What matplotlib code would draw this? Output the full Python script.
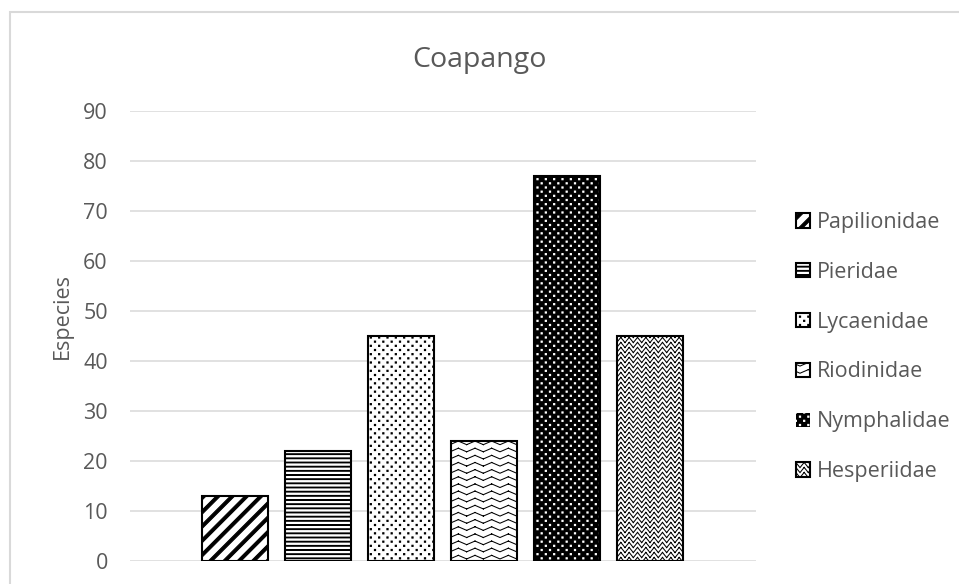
import warnings
import numpy as np
import matplotlib
matplotlib.use("Agg")
import matplotlib.pyplot as plt
from matplotlib import hatch as mhatch
from matplotlib.path import Path
from matplotlib.patches import Rectangle

warnings.filterwarnings("ignore", category=matplotlib.MatplotlibDeprecationWarning)

# ---- data -------------------------------------------------------------
families = ["Papilionidae", "Pieridae", "Lycaenidae", "Riodinidae",
            "Nymphalidae", "Hesperiidae"]
species = [13, 22, 45, 24, 77, 45]
yticks = [0, 10, 20, 30, 40, 50, 60, 70, 80, 90]
title = "Coapango"
ylabel = "Especies"

# hatch code per family (custom fill patterns defined below)
patterns = ["d", "h", "p", "w", "p", "v"]
faces = ["white", "white", "white", "white", "black", "white"]
hatch_ink = ["black", "black", "black", "black", "white", "black"]

# ---- custom hatch patterns (unit cell = one inch tile) -------------------
plt.rcParams["hatch.linewidth"] = 0.75


def _diagonal(n=7, t=0.021):
    polys = []
    for k in range(-n - 1, n + 2):
        c = k / n
        polys.append([(-0.2, -0.2 + c - t), (1.2, 1.2 + c - t),
                      (1.2, 1.2 + c + t), (-0.2, -0.2 + c + t)])
    return polys


def _horizontal(n=24, t=0.004):
    polys = []
    for k in range(-1, n + 2):
        y = k / n
        polys.append([(-0.1, y - t), (1.1, y - t), (1.1, y + t), (-0.1, y + t)])
    return polys


def _dots(cols=12, rows=24, s=0.006):
    polys = []
    for r in range(-1, rows + 2):
        y = r / rows
        off = 0.5 / cols if r % 2 else 0.0
        for c in range(-1, cols + 2):
            x = c / cols + off
            polys.append([(x - s, y - s), (x + s, y - s),
                          (x + s, y + s), (x - s, y + s)])
    return polys


def _zigzag(rows, periods, amp):
    segs = []
    xs = np.arange(2 * periods + 1) / (2 * periods)
    for r in range(-1, rows + 2):
        y0 = r / rows
        ys = [y0 - amp if j % 2 == 0 else y0 + amp for j in range(len(xs))]
        for j in range(len(xs) - 1):
            segs.append([(xs[j], ys[j]), (xs[j + 1], ys[j + 1])])
    return segs


_shapes = {
    "d": lambda: _diagonal(),
    "h": lambda: _horizontal(),
    "p": lambda: _dots(),
    "w": lambda: _zigzag(14, 6, 0.018),
    "v": lambda: _zigzag(20, 12, 0.026),
}


def _make_hatch(char):
    class _Pattern(mhatch.HatchPatternBase):
        def __init__(self, hatch, density):
            self.polys = _shapes[char]() if (hatch and char in hatch) else []
            self.num_vertices = sum(len(p) + 1 for p in self.polys)

        def set_vertices_and_codes(self, vertices, codes):
            i = 0
            for p in self.polys:
                n = len(p)
                vertices[i:i + n] = p
                vertices[i + n] = p[0]
                codes[i] = Path.MOVETO
                codes[i + 1:i + n] = Path.LINETO
                codes[i + n] = Path.CLOSEPOLY
                i += n + 1
    return _Pattern


for ch in _shapes:
    mhatch._hatch_types.append(_make_hatch(ch))

# ---- figure -------------------------------------------------------------
plt.rcParams["font.family"] = ["Open Sans", "DejaVu Sans"]
text_col = "#595959"
grid_col = "#d9d9d9"

W, H = 959, 584
fig = plt.figure(figsize=(W / 100, H / 100), dpi=100)
fig.patch.set_facecolor("white")

# chart border
fig.patches.append(Rectangle((10 / W, -0.1), 1.2, (H - 12) / H + 0.1,
                             transform=fig.transFigure, fill=False,
                             edgecolor=grid_col, linewidth=1.5))

ax = fig.add_axes([130 / W, (H - 561) / H, (756 - 130) / W, 450 / H])
ax.set_ylim(0, 90)
ax.set_xlim(-1.27, 6.28)
ax.set_yticks(yticks)
ax.set_xticks([])
ax.yaxis.grid(True, color=grid_col, linewidth=1.1)
ax.set_axisbelow(True)
for sp in ax.spines.values():
    sp.set_visible(False)
ax.tick_params(axis="y", length=0, pad=16, labelsize=15.5, labelcolor=text_col)

handles = []
for i, (fam, val) in enumerate(zip(families, species)):
    if faces[i] == "black":
        b = ax.bar(i, val, width=0.8, color=faces[i], edgecolor=hatch_ink[i],
                   linewidth=0, hatch=patterns[i], label=fam, zorder=2)
        ax.bar(i, val, width=0.8, fill=False, edgecolor="black",
               linewidth=1.5, zorder=3)
    else:
        b = ax.bar(i, val, width=0.8, color=faces[i], edgecolor=hatch_ink[i],
                   linewidth=1.5, hatch=patterns[i], label=fam, zorder=2)
    handles.append(b)

fig.text(479 / W, 1 - 60 / H, title, ha="center", va="center",
         fontsize=20.5, color=text_col)
fig.text(62 / W, 1 - 316 / H, ylabel, ha="center", va="center",
         rotation=90, fontsize=15.5, color=text_col)

fig.legend(handles=handles, labels=families, loc="center left",
           bbox_to_anchor=(796 / W, 1 - 347 / H), frameon=False,
           fontsize=15.5, labelcolor=text_col, handlelength=0.65,
           handleheight=0.65, handletextpad=0.3, labelspacing=1.34,
           borderpad=0, borderaxespad=0)

fig.savefig("out.png", dpi=100, facecolor="white")
